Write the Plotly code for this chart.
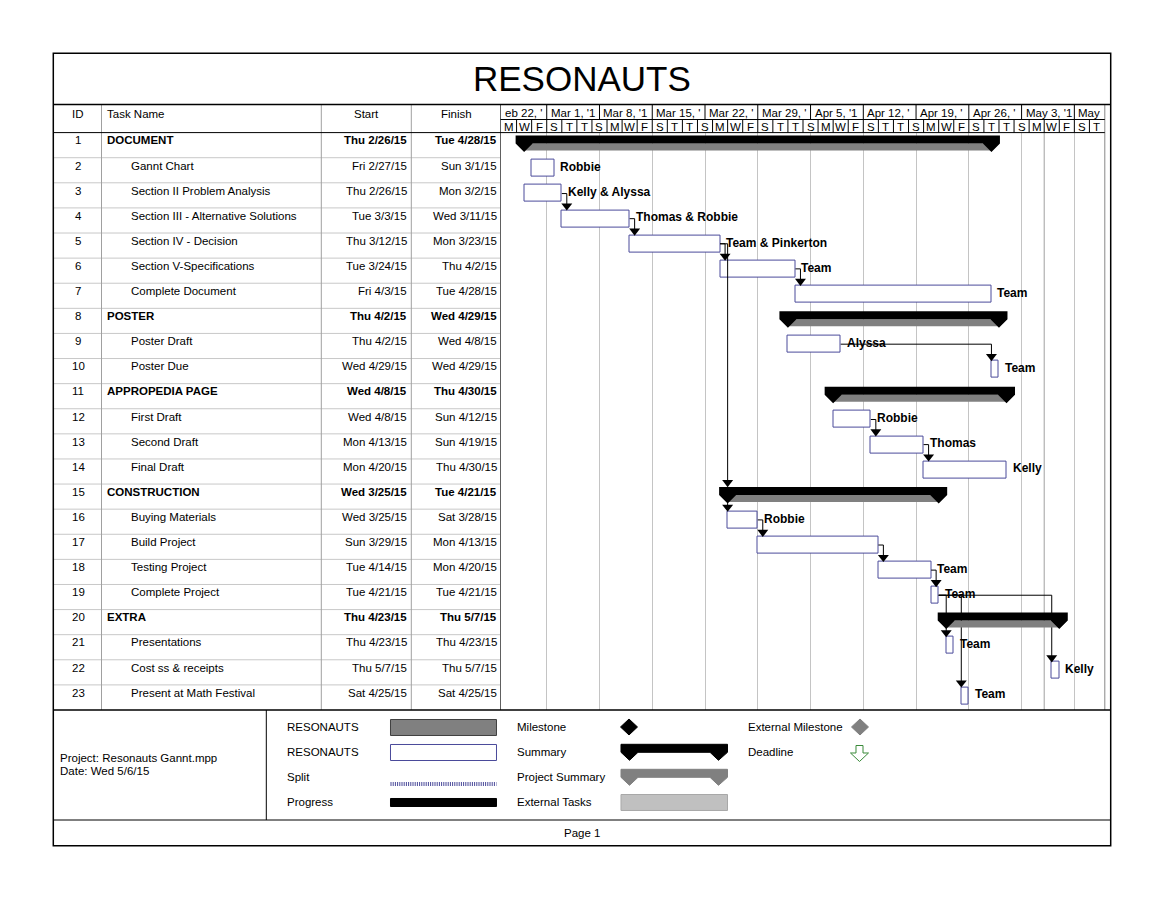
import plotly.graph_objects as go
from datetime import datetime, timedelta

# ---------------- data ----------------
task_ids = list(range(1, 24))
task_names = ["DOCUMENT", "Gannt Chart", "Section II Problem Analysis",
              "Section III - Alternative Solutions", "Section IV - Decision",
              "Section V-Specifications", "Complete Document", "POSTER",
              "Poster Draft", "Poster Due", "APPROPEDIA PAGE", "First Draft",
              "Second Draft", "Final Draft", "CONSTRUCTION", "Buying Materials",
              "Build Project", "Testing Project", "Complete Project", "EXTRA",
              "Presentations", "Cost ss & receipts", "Present at Math Festival"]
is_summary = [1, 0, 0, 0, 0, 0, 0, 1, 0, 0, 1, 0, 0, 0, 1, 0, 0, 0, 0, 1, 0, 0, 0]
start_labels = ["Thu 2/26/15", "Fri 2/27/15", "Thu 2/26/15", "Tue 3/3/15", "Thu 3/12/15",
                "Tue 3/24/15", "Fri 4/3/15", "Thu 4/2/15", "Thu 4/2/15", "Wed 4/29/15",
                "Wed 4/8/15", "Wed 4/8/15", "Mon 4/13/15", "Mon 4/20/15", "Wed 3/25/15",
                "Wed 3/25/15", "Sun 3/29/15", "Tue 4/14/15", "Tue 4/21/15", "Thu 4/23/15",
                "Thu 4/23/15", "Thu 5/7/15", "Sat 4/25/15"]
finish_labels = ["Tue 4/28/15", "Sun 3/1/15", "Mon 3/2/15", "Wed 3/11/15", "Mon 3/23/15",
                 "Thu 4/2/15", "Tue 4/28/15", "Wed 4/29/15", "Wed 4/8/15", "Wed 4/29/15",
                 "Thu 4/30/15", "Sun 4/12/15", "Sun 4/19/15", "Thu 4/30/15", "Tue 4/21/15",
                 "Sat 3/28/15", "Mon 4/13/15", "Mon 4/20/15", "Tue 4/21/15", "Thu 5/7/15",
                 "Thu 4/23/15", "Thu 5/7/15", "Sat 4/25/15"]
resources = ["", "Robbie", "Kelly & Alyssa", "Thomas & Robbie", "Team & Pinkerton", "Team",
             "Team", "", "Alyssa", "Team", "", "Robbie", "Thomas", "Kelly", "", "Robbie",
             "", "Team", "Team", "", "Team", "Kelly", "Team"]
links = [(3, 4), (4, 5), (5, 6), (5, 15), (15, 16), (6, 7), (9, 10), (12, 13), (13, 14),
         (16, 17), (17, 18), (18, 19), (19, 21), (19, 22), (19, 23)]
week_labels = ["eb 22, '", "Mar 1, '1", "Mar 8, '1", "Mar 15, '", "Mar 22, '", "Mar 29, '",
               "Apr 5, '1", "Apr 12, '", "Apr 19, '", "Apr 26, '", "May 3, '1", "May"]
day_letters = ["M", "W", "F", "S", "T", "T", "S"]
status_date = "2015-05-06"
title_text = "RESONAUTS"
project_lines = ["Project: Resonauts Gannt.mpp", "Date: Wed 5/6/15"]

# ---------------- geometry ----------------
W, H = 1164, 899
X0_PX, X1_PX = 501.5, 1104.5
Y0_PX, Y1_PX = 132.6, 710.0
TIER_PX = 119.5
AX_START = datetime(2015, 2, 23)
AX_END = datetime(2015, 5, 14)
PXD = (X1_PX - X0_PX) / (AX_END - AX_START).days
NROW = len(task_ids)
ROWH = (Y1_PX - Y0_PX) / NROW
FONT = "Liberation Sans, Arial, sans-serif"
BAR_EDGE = "#4a4a9a"


def dd(px):
    return timedelta(days=px / PXD)


def ry(row, off):
    return row - 1 + off / ROWH


def px_x(px):
    return px / W


def px_y(py):
    return 1 - py / H


def parse(lbl):
    return datetime.strptime(lbl.split()[1], "%m/%d/%y")


starts = [parse(s) for s in start_labels]
ends = [parse(f) + timedelta(days=1) for f in finish_labels]

fig = go.Figure()

# ---------------- task bars ----------------
bar_rows = [i for i in range(NROW) if not is_summary[i]]
fig.add_trace(go.Bar(
    orientation="h",
    base=[starts[i] for i in bar_rows],
    x=[(ends[i] - starts[i]).total_seconds() * 1000 for i in bar_rows],
    y=[ry(task_ids[i], 10.75) for i in bar_rows],
    width=17 / ROWH,
    marker=dict(color="white", line=dict(color=BAR_EDGE, width=1)),
    hoverinfo="skip", showlegend=False))

# ---------------- links ----------------
arrow_x, arrow_y = [], []
for p, q in links:
    pi, qi = p - 1, q - 1
    top_q = 3.0 if is_summary[qi] else 2.5
    if is_summary[pi]:
        xv = starts[qi]
        xs = [xv, xv]
        ys = [ry(p, 19), ry(q, top_q - 4)]
    else:
        xv = max(ends[pi] + dd(5), starts[qi])
        xs = [ends[pi], xv, xv]
        ys = [ry(p, 10.75), ry(p, 10.75), ry(q, top_q - 4)]
    fig.add_trace(go.Scatter(x=xs, y=ys, mode="lines",
                             line=dict(color="black", width=1),
                             hoverinfo="skip", showlegend=False))
    arrow_x.append(xv)
    arrow_y.append(ry(q, top_q - 4.6))

# ---------------- summary bars ----------------
DX = dd(8.5)
for i in range(NROW):
    if not is_summary[i]:
        continue
    r = task_ids[i]
    s, e = starts[i], ends[i]
    fig.add_trace(go.Scatter(
        x=[s, e, e, s, s], y=[ry(r, 11), ry(r, 11), ry(r, 18), ry(r, 18), ry(r, 11)],
        fill="toself", fillcolor="#808080", line=dict(width=0), mode="lines",
        hoverinfo="skip", showlegend=False))
    fig.add_trace(go.Scatter(
        x=[s - DX, e + DX, e + DX, e, e - DX, s + DX, s, s - DX, s - DX],
        y=[ry(r, 3), ry(r, 3), ry(r, 11), ry(r, 19.5), ry(r, 11), ry(r, 11),
           ry(r, 19.5), ry(r, 11), ry(r, 3)],
        fill="toself", fillcolor="black", line=dict(width=0, color="black"), mode="lines",
        hoverinfo="skip", showlegend=False))

# arrowheads
fig.add_trace(go.Scatter(x=arrow_x, y=arrow_y, mode="markers",
                         marker=dict(symbol="triangle-down", size=9.5, color="black",
                                     line=dict(width=0)),
                         hoverinfo="skip", showlegend=False))

annotations = []
shapes = []


def txt(x, y, text, size=11.5, xanchor="left", xref="paper", yref="paper", bold=False,
        yanchor="middle"):
    annotations.append(dict(x=x, y=y, xref=xref, yref=yref, text=("<b>%s</b>" % text) if bold else text,
                            showarrow=False, xanchor=xanchor, yanchor=yanchor,
                            font=dict(family=FONT, size=size, color="black")))


def pline(x0, y0, x1, y1, color="black", width=1, dash=None):
    ln = dict(color=color, width=width)
    if dash:
        ln["dash"] = dash
    shapes.append(dict(type="line", xref="paper", yref="paper", x0=px_x(x0), y0=px_y(y0),
                       x1=px_x(x1), y1=px_y(y1), line=ln, layer="above"))


def ppath(pts, fill, color, width=1):
    path = "M " + " L ".join("%f,%f" % (px_x(a), px_y(b)) for a, b in pts) + " Z"
    shapes.append(dict(type="path", xref="paper", yref="paper", path=path, fillcolor=fill,
                       line=dict(color=color, width=width), layer="above"))


# resource labels
for i in range(NROW):
    if resources[i]:
        annotations.append(dict(x=ends[i] + dd(4), y=ry(task_ids[i], 9.5), xref="x", yref="y",
                                text="<b>%s</b>" % resources[i], showarrow=False,
                                xanchor="left", yanchor="middle",
                                font=dict(family=FONT, size=12, color="black")))

# ---------------- table ----------------
for i in range(NROW):
    r = task_ids[i]
    yy = ry(r, 7.8)
    b = bool(is_summary[i])
    annotations.append(dict(x=px_x(78), y=yy, xref="paper", yref="y", text=str(r),
                            showarrow=False, xanchor="center", yanchor="middle",
                            font=dict(family=FONT, size=11.5, color="black")))
    annotations.append(dict(x=px_x(104.5 if b else 128.5), y=yy, xref="paper", yref="y",
                            text=("<b>%s</b>" % task_names[i]) if b else task_names[i],
                            showarrow=False, xanchor="left", yanchor="middle",
                            font=dict(family=FONT, size=11.5, color="black")))
    annotations.append(dict(x=px_x(409), y=yy, xref="paper", yref="y",
                            text=("<b>%s</b>" % start_labels[i]) if b else start_labels[i],
                            showarrow=False, xanchor="right", yanchor="middle",
                            font=dict(family=FONT, size=11.5, color="black")))
    annotations.append(dict(x=px_x(499), y=yy, xref="paper", yref="y",
                            text=("<b>%s</b>" % finish_labels[i]) if b else finish_labels[i],
                            showarrow=False, xanchor="right", yanchor="middle",
                            font=dict(family=FONT, size=11.5, color="black")))
    ysep = Y0_PX + r * ROWH
    if r < NROW:
        pline(53.3, ysep, 500.5, ysep, color="#c8c8c8", width=1)

# header texts
txt(px_x(78), px_y(114), "ID", xanchor="center")
txt(px_x(104.5), px_y(114), "Task Name")
txt(px_x(366), px_y(114), "Start", xanchor="center")
txt(px_x(456), px_y(114), "Finish", xanchor="center")

# column lines
for cx in (101.5, 321.3, 411.3):
    pline(cx, 104.5, cx, 710, color="#a0a0a0")
pline(500.5, 104.5, 500.5, 710, color="#606060")
pline(1104.8, 104.5, 1104.8, 710, color="#888888")

# ---------------- timescale ----------------
week_starts = [AX_START - timedelta(days=1) + timedelta(days=7 * k) for k in range(len(week_labels))]
for k, ws in enumerate(week_starts):
    if k > 0:
        shapes.append(dict(type="line", xref="x", yref="paper", x0=ws, x1=ws,
                           y0=px_y(104.5), y1=px_y(TIER_PX), line=dict(color="black", width=1),
                           layer="above"))
    xl = max(ws, AX_START) + dd(1 if k == 0 else 2)
    annotations.append(dict(x=xl, y=px_y(112.5), xref="x", yref="paper", text=week_labels[k],
                            showarrow=False, xanchor="left", yanchor="middle",
                            font=dict(family=FONT, size=11.5, color="black")))
ncell = (AX_END - AX_START).days // 2
for c in range(ncell):
    c0 = AX_START + timedelta(days=2 * c)
    if c > 0:
        shapes.append(dict(type="line", xref="x", yref="paper", x0=c0, x1=c0,
                           y0=px_y(TIER_PX), y1=px_y(132.6), line=dict(color="black", width=1),
                           layer="above"))
    annotations.append(dict(x=c0 + timedelta(days=1), y=px_y(126.5), xref="x", yref="paper",
                            text=day_letters[c % 7], showarrow=False, xanchor="center",
                            yanchor="middle", font=dict(family=FONT, size=11.5, color="black")))
pline(500.5, TIER_PX, 1104.8, TIER_PX, color="black")

# current date line
shapes.append(dict(type="line", xref="x", yref="paper", x0=status_date, x1=status_date,
                   y0=px_y(132.6), y1=px_y(710), line=dict(color="#a0a0a0", width=1),
                   layer="below"))

# frame lines
pline(53.3, 104.5, 1110.7, 104.5, width=1.5)
pline(53.3, 132.6, 1104.8, 132.6, width=1)
pline(53.3, 710, 1110.7, 710, width=1.5)
pline(53.3, 820, 1110.7, 820, width=1)
pline(266.3, 710, 266.3, 820, width=1)
shapes.append(dict(type="rect", xref="paper", yref="paper", x0=px_x(53.3), y0=px_y(845.7),
                   x1=px_x(1110.7), y1=px_y(53.3), line=dict(color="black", width=1.5),
                   layer="above"))

# title
txt(px_x(582), px_y(78.5), title_text, size=35, xanchor="center")

# ---------------- legend ----------------
txt(px_x(58), px_y(758), project_lines[0])
txt(px_x(58), px_y(771), project_lines[1])
for lab, yy in zip(["RESONAUTS", "RESONAUTS", "Split", "Progress"], [727, 752, 777, 802]):
    txt(px_x(285), px_y(yy), lab)
for lab, yy in zip(["Milestone", "Summary", "Project Summary", "External Tasks"], [727, 752, 777, 802]):
    txt(px_x(515), px_y(yy), lab)
txt(px_x(746), px_y(727), "External Milestone")
txt(px_x(746), px_y(752), "Deadline")

ppath([(390.5, 719.5), (496.5, 719.5), (496.5, 735.5), (390.5, 735.5)], "#808080", "#404040")
ppath([(390.5, 744.5), (496.5, 744.5), (496.5, 760.5), (390.5, 760.5)], "white", BAR_EDGE)
pline(390.5, 784, 496.5, 784, color="#4a4a9a", width=4, dash="1px,1.2px")
ppath([(390.5, 798.5), (496.5, 798.5), (496.5, 806.5), (390.5, 806.5)], "black", "black")

ppath([(629, 719), (637.5, 727), (629, 735), (620.5, 727)], "black", "black")
ppath([(860, 719), (868.5, 727), (860, 735), (851.5, 727)], "#808080", "#808080")


def leg_summary(y0, fill):
    ppath([(621, y0), (727.5, y0), (727.5, y0 + 8), (718.5, y0 + 16), (710, y0 + 8),
           (638, y0 + 8), (629.5, y0 + 16), (621, y0 + 8)], fill, fill)


leg_summary(744.3, "black")
leg_summary(769.3, "#808080")
ppath([(621, 794.5), (727.5, 794.5), (727.5, 810.5), (621, 810.5)], "#c0c0c0", "#a8a8a8")
ppath([(856, 745.5), (863, 745.5), (863, 753), (868.5, 753), (859.5, 761.5), (850.5, 753),
       (856, 753)], "white", "#3a8a3a")

# footer
txt(px_x(582), px_y(833), "Page 1", size=11.5, xanchor="center")

fig.update_layout(
    width=W, height=H, margin=dict(l=0, r=0, t=0, b=0),
    paper_bgcolor="white", plot_bgcolor="white",
    showlegend=False, bargap=0,
    xaxis=dict(type="date", range=[AX_START, AX_END], domain=[px_x(X0_PX), px_x(X1_PX)],
               showgrid=True, gridcolor="#c4c4c4", gridwidth=1,
               tick0="2015-03-01", dtick=7 * 86400000, showticklabels=False, ticks="",
               zeroline=False, showline=False, fixedrange=True),
    yaxis=dict(range=[NROW, 0], domain=[px_y(Y1_PX), px_y(Y0_PX)], showgrid=False,
               zeroline=False, showticklabels=False, ticks="", showline=False,
               fixedrange=True),
    annotations=annotations, shapes=shapes,
)

fig.write_html("out.html", config={"displayModeBar": False},
               post_script="document.body.style.margin='0px';document.body.style.overflow='hidden';")
